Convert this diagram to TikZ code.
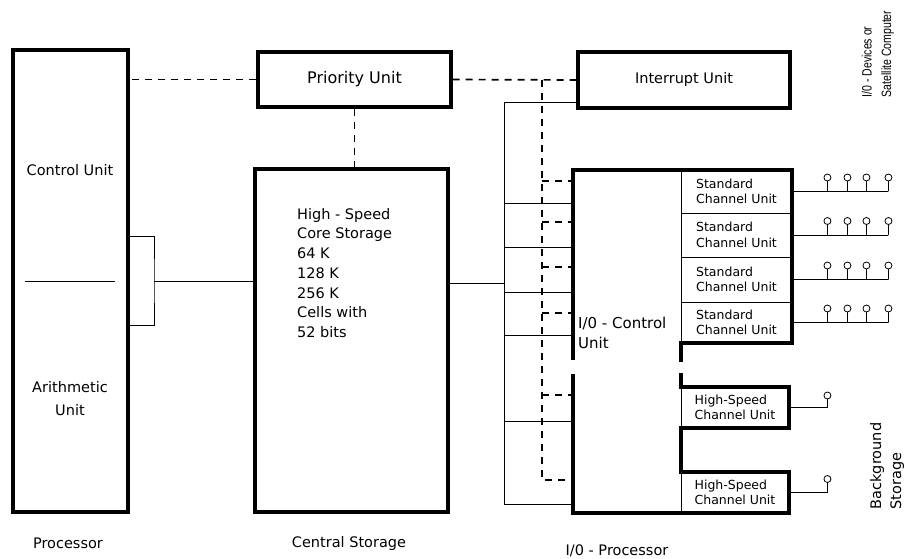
\documentclass[tikz,border=0pt]{standalone}
\usepackage{fontspec}
\usepackage{tikz}
\setmainfont{DejaVu Sans}
\newfontfamily\devfont[FakeStretch=0.78]{Liberation Sans}

\begin{document}
\begin{tikzpicture}[x=1pt, y=-1pt, every node/.style={font=\fontsize{14.5}{20}\selectfont},
  unitbox/.style={draw, line width=3.4pt, inner sep=0pt},
  chanbox/.style={draw, line width=0.9pt, inner sep=0pt, align=left, font=\fontsize{12.5}{15.5}\selectfont},
  iooutline/.style={line width=3.4pt, line join=miter},
  databus/.style={line width=0.8pt},
  ctrlbus/.style={line width=1.7pt, dash pattern=on 7pt off 6pt}]
  \useasboundingbox (0,0) rectangle (919,559);

  \node[unitbox, minimum width=115pt, minimum height=462pt] (proc) at (70.5,281) {};
  \node (ctrlunit) at (70,170) {Control Unit};
  \node[align=center, font=\fontsize{14.5}{23}\selectfont] (arith) at (70,399) {Arithmetic\\Unit};
  \draw[databus] (25,281) -- (115,281);

  \node[unitbox, minimum width=193pt, minimum height=55pt, font=\fontsize{16}{20}\selectfont] (prio) at (354.5,79.5) {Priority Unit};
  \node[unitbox, minimum width=193pt, minimum height=343pt] (core) at (351.5,340.5) {};
  \node[align=left, anchor=north west, inner sep=0pt, font=\fontsize{14.5}{19.7}\selectfont] (coretext) at (297,208)
    {High - Speed\\Core Storage\\64 K\\128 K\\256 K\\Cells with\\52 bits};
  \node[unitbox, minimum width=212pt, minimum height=56pt] (intr) at (684,80) {Interrupt Unit};

  \foreach \i/\yc/\h in {1/191.5/43, 2/235/44, 3/279.5/45, 4/322.5/41}
    \node[chanbox, minimum width=111pt, minimum height=\h pt] (std\i) at (736.5,\yc) {Standard\\Channel Unit};
  \node[chanbox, minimum width=108pt, minimum height=41pt] (hs1) at (735,407.5) {High-Speed\\Channel Unit};
  \node[chanbox, minimum width=108pt, minimum height=41pt] (hs2) at (735,492.5) {High-Speed\\Channel Unit};

  \draw[iooutline] (573,360) -- (573,170) -- (792,170) -- (792,343) -- (681,343) -- (681,362);
  \draw[iooutline] (681,373) -- (681,387) -- (789,387) -- (789,428) -- (681,428) -- (681,472)
    -- (789,472) -- (789,513) -- (573,513) -- (573,374);
  \node[anchor=west, align=left, inner sep=0pt, font=\fontsize{15}{20}\selectfont] (ioctrl) at (578,333) {I/0 - Control\\Unit};

  \coordinate (ioedge) at (573,170);
  \coordinate (sbustop) at (504,102);
  \coordinate (sbusbot) at (504,504);
  \coordinate (dbustop) at (542,80);
  \coordinate (dbusbot) at (542,480);
  \coordinate (brk) at (154,281);

  \draw[databus] (proc.east |- 0,236) -| (brk) |- (proc.east |- 0,325);
  \draw[databus] (brk) -- (brk -| core.west);
  \draw[databus] (core.east |- 0,283) -- (sbustop |- 0,283);
  \draw[databus] (sbustop -| intr.west) -- (sbustop) -- (sbusbot) -- (sbusbot -| ioedge);
  \foreach \y in {203,247,292,335,421}
    \draw[databus] (sbustop |- 0,\y) -- (ioedge |- 0,\y);

  \draw[ctrlbus] (prio.west) -- (prio.west -| proc.east);
  \draw[ctrlbus] (prio.south) -- (prio.south |- core.north);
  \draw[ctrlbus] (prio.east) -- (intr.west);
  \draw[ctrlbus] (dbustop) -- (dbusbot) -- (dbusbot -| ioedge);
  \foreach \y in {181,222,267,313,395}
    \draw[ctrlbus] (dbustop |- 0,\y) -- (ioedge |- 0,\y);

  \foreach \i in {1,...,4} {
    \draw[databus] (std\i.east) -- ++(96,0);
    \foreach \dx in {35,55,74,96}
      \draw[databus] ([xshift=\dx pt]std\i.east) -- ++(0,-10.5) ++(0,-3.5) circle[radius=3.5pt];
  }
  \draw[databus] (hs1.east) -- ++(38,0) -- ++(0,-8.5) ++(0,-3.5) circle[radius=3.5pt];
  \draw[databus] (hs2.east) -- ++(38,0) -- ++(0,-10) ++(0,-3.5) circle[radius=3.5pt];

  \node (proclabel) at (68,543) {Processor};
  \node (corelabel) at (349,543) {Central Storage};
  \node (iolabel) at (617,551) {I/0 - Processor};
  \node[rotate=90, align=left, font=\devfont\fontsize{13.5}{19.5}\selectfont] (devlabel) at (878,54) {I/0 - Devices or\\Satellite Computer};
  \node[rotate=90, align=left, font=\fontsize{14.5}{20}\selectfont] (bglabel) at (887,466) {Background\\Storage};
\end{tikzpicture}
\end{document}
